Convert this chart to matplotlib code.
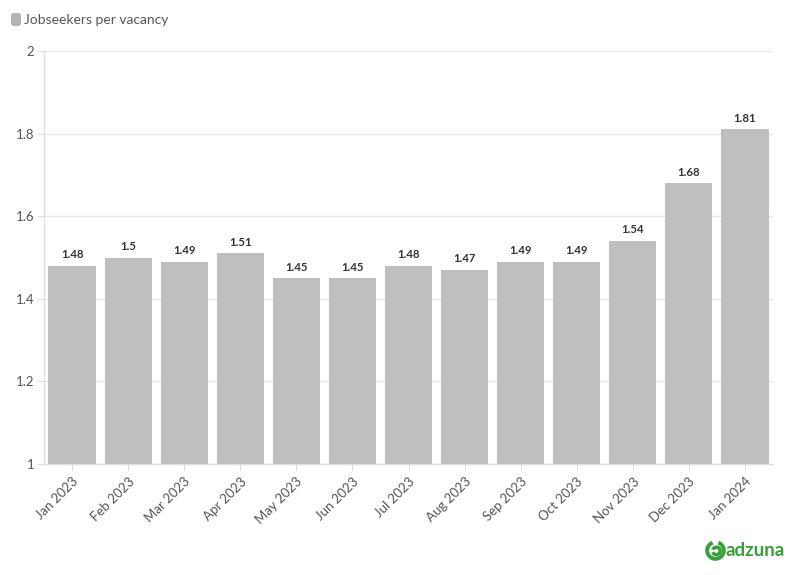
import matplotlib
matplotlib.use("Agg")
import matplotlib.pyplot as plt
from matplotlib.patches import FancyBboxPatch, Arc

categories = ["Jan 2023", "Feb 2023", "Mar 2023", "Apr 2023", "May 2023", "Jun 2023",
              "Jul 2023", "Aug 2023", "Sep 2023", "Oct 2023", "Nov 2023", "Dec 2023", "Jan 2024"]
values = [1.48, 1.5, 1.49, 1.51, 1.45, 1.45, 1.48, 1.47, 1.49, 1.49, 1.54, 1.68, 1.81]
value_labels = ["1.48", "1.5", "1.49", "1.51", "1.45", "1.45", "1.48", "1.47", "1.49", "1.49", "1.54", "1.68", "1.81"]
yticks = [1, 1.2, 1.4, 1.6, 1.8, 2]
ytick_labels = ["1", "1.2", "1.4", "1.6", "1.8", "2"]
series_name = "Jobseekers per vacancy"

plt.rcParams['font.family'] = ['Lato', 'DejaVu Sans']

W, H = 796, 575
fig = plt.figure(figsize=(W / 100, H / 100), dpi=100)
ax = fig.add_axes([44 / W, (H - 464) / H, (773 - 44) / W, (464 - 51) / H])

bar_color = "#bfbfbf"
x = list(range(len(categories)))
ax.bar(x, values, width=0.84, color=bar_color, zorder=2, bottom=0)
ax.set_xlim(-0.5, len(categories) - 0.5)
ax.set_ylim(1, 2)
ax.set_yticks(yticks)
ax.set_yticklabels(ytick_labels)
ax.set_xticks(x)
ax.set_xticklabels(categories, rotation=45, ha="right", rotation_mode="anchor")

for xi, v, lab in zip(x, values, value_labels):
    ax.annotate(lab, (xi, v), xytext=(0, 4), textcoords="offset points",
                ha="center", va="bottom", fontsize=8.2, fontweight="bold", color="#333333")

ax.grid(axis="y", color="#e8e8e8", linewidth=1, zorder=0)
for s in ["top", "right"]:
    ax.spines[s].set_visible(False)
for s in ["left", "bottom"]:
    ax.spines[s].set_color("#e0e0e0")
    ax.spines[s].set_linewidth(1)
ax.tick_params(axis="both", colors="#e0e0e0", labelcolor="#555555", labelsize=9.5, length=5)
ax.tick_params(axis="x", pad=3)
ax.tick_params(axis="y", pad=2)

# legend
box = FancyBboxPatch((11 / W, 1 - 26 / H), 10 / W, 13 / H, boxstyle="round,pad=0,rounding_size=0.004",
                     transform=fig.transFigure, facecolor="#b5b5b5", edgecolor="none")
fig.patches.append(box)
fig.text(24 / W, 1 - 19.5 / H, series_name, fontsize=10, color="#555555", va="center", ha="left")

# adzuna logo
green = "#3a9e3a"
fig.text(725 / W, 1 - 550 / H, "adzuna", fontsize=13.5, fontweight="bold", color=green, va="center", ha="left")
logo_ax = fig.add_axes([705 / W, 1 - 561 / H, 21 / W, 21 / H])
logo_ax.set_xlim(-1.2, 1.2)
logo_ax.set_ylim(-1.2, 1.2)
logo_ax.set_aspect("equal")
logo_ax.axis("off")
logo_ax.add_patch(Arc((0, 0), 1.9, 1.9, theta1=110, theta2=430, color=green, linewidth=2.8))
logo_ax.add_patch(Arc((0.1, -0.05), 0.85, 0.85, theta1=200, theta2=520, color=green, linewidth=2.5))

fig.savefig("out.png", dpi=100, facecolor="white")
